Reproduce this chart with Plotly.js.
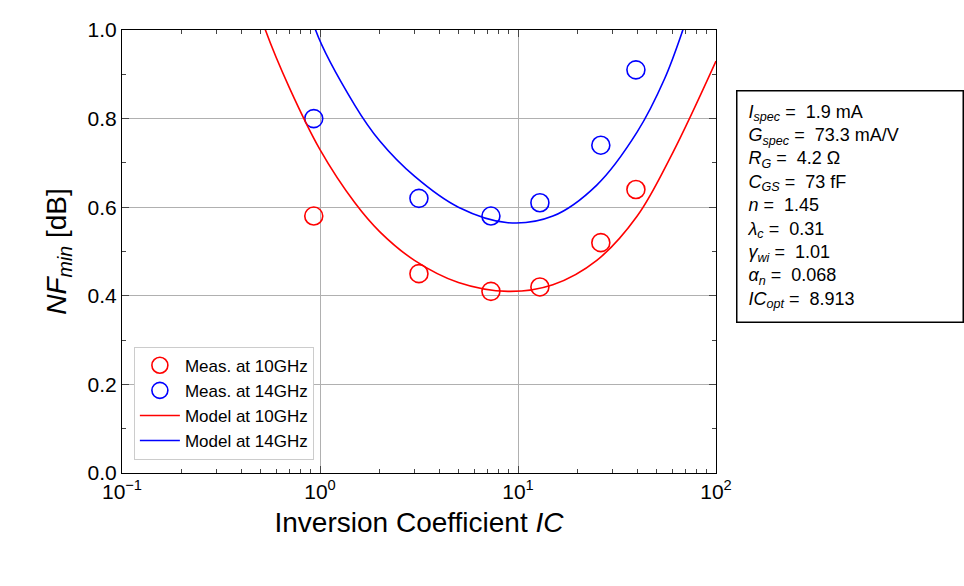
<!DOCTYPE html>
<html><head><meta charset="utf-8">
<script src="https://cdn.plot.ly/plotly-3.0.1.min.js"></script>
<style>body{margin:0}#myDiv{width:964px;height:586px}</style>
</head><body><div id="myDiv"></div>
<script>
// measured points
var measIC = [0.93, 3.16, 7.3, 12.9, 26.2, 39.4];
var meas10 = [0.58, 0.45, 0.41, 0.42, 0.52, 0.64];
var meas14 = [0.80, 0.62, 0.58, 0.61, 0.74, 0.91];

// model curves
var model10IC = [0.45, 0.53, 0.7, 1, 1.5, 2, 3, 5, 8.9, 15, 25, 40, 60, 100];
var model10 = [1.1, 1.0, 0.87, 0.73, 0.61, 0.545, 0.48, 0.43, 0.41, 0.425, 0.48, 0.58, 0.72, 0.93];
var model14IC = [0.85, 0.95, 1.5, 2, 3, 5, 8.9, 15, 25, 40, 55, 68, 80];
var model14 = [1.1, 1.0, 0.83, 0.75, 0.67, 0.6, 0.565, 0.58, 0.65, 0.77, 0.89, 1.0, 1.1];

var params = [
  '<i>I<sub>spec</sub></i> =  1.9 mA',
  '<i>G<sub>spec</sub></i> =  73.3 mA/V',
  '<i>R<sub>G</sub></i> =  4.2 Ω',
  '<i>C<sub>GS</sub></i> =  73 fF',
  '<i>n</i> =  1.45',
  '<i>λ<sub>c</sub></i> =  0.31',
  '<i>γ<sub>wi</sub></i> =  1.01',
  '<i>α<sub>n</sub></i> =  0.068',
  '<i>IC<sub>opt</sub></i> =  8.913'
];

var mk = function (c) { return {size: 18, color: 'rgba(0,0,0,0)', line: {color: c, width: 1.6}}; };
var data = [
  {x: measIC, y: meas10, mode: 'markers', name: 'Meas. at 10GHz', marker: mk('red')},
  {x: measIC, y: meas14, mode: 'markers', name: 'Meas. at 14GHz', marker: mk('blue')},
  {x: model10IC, y: model10, mode: 'lines', name: 'Model at 10GHz', line: {color: 'red', width: 1.6, shape: 'spline'}},
  {x: model14IC, y: model14, mode: 'lines', name: 'Model at 14GHz', line: {color: 'blue', width: 1.6, shape: 'spline'}}
];

var layout = {
  width: 964, height: 586,
  margin: {l: 122, r: 248, t: 30, b: 113},
  font: {family: 'Liberation Sans, Arial', size: 21, color: 'black'},
  showlegend: true,
  legend: {x: 0.02, y: 0.03, xanchor: 'left', yanchor: 'bottom', bgcolor: 'white',
    bordercolor: '#ccc', borderwidth: 1, font: {size: 17}, tracegroupgap: 0, itemwidth: 40},
  xaxis: {type: 'log', range: [-1, 2], showgrid: true, gridcolor: '#b0b0b0',
    ticks: 'inside', ticklen: 7, mirror: 'ticks', showline: true, linecolor: 'black', linewidth: 1.2,
    tickvals: [0.1, 1, 10, 100], ticktext: ['10<sup>−1</sup>', '10<sup>0</sup>', '10<sup>1</sup>', '10<sup>2</sup>'],
    minor: {ticks: 'inside', ticklen: 4, tickvals: [0.2,0.3,0.4,0.5,0.6,0.7,0.8,0.9,2,3,4,5,6,7,8,9,20,30,40,50,60,70,80,90], showgrid: false},
    title: {text: 'Inversion Coefficient <i>IC</i>', font: {size: 28}, standoff: 10}},
  yaxis: {range: [0, 1], dtick: 0.2, tickformat: '.1f', showgrid: true, gridcolor: '#b0b0b0',
    ticks: 'inside', ticklen: 7, mirror: 'ticks', showline: true, linecolor: 'black', linewidth: 1.2,
    minor: {ticks: 'inside', ticklen: 4, dtick: 0.1, showgrid: false},
    title: {text: '<i>NF<sub>min</sub></i> [dB]', font: {size: 28}, standoff: 12}},
  annotations: [{
    xref: 'paper', yref: 'paper', x: 1.033, y: 0.865, xanchor: 'left', yanchor: 'top',
    text: params.join('<br>'), align: 'left', showarrow: false, font: {size: 18},
    width: 205, bordercolor: 'black', borderwidth: 1.5, borderpad: 10, bgcolor: 'white'
  }],
  plot_bgcolor: 'white', paper_bgcolor: 'white'
};

Plotly.newPlot('myDiv', data, layout, {displayModeBar: false});
</script></body></html>
